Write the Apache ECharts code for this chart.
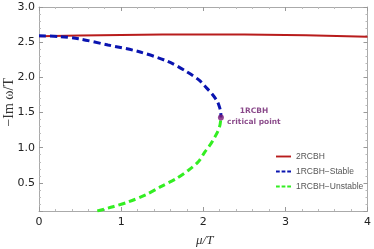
<!DOCTYPE html>
<html><head><meta charset="utf-8">
<script src="https://cdn.jsdelivr.net/npm/echarts@6/dist/echarts.min.js"></script>
<style>html,body{margin:0;padding:0;background:#fff}#c{width:374px;height:249px}</style>
</head><body><div id="c"></div>
<script>
const redX = [0, 0.5, 1, 1.5, 2, 2.5, 3, 3.5, 4];
const redY = [2.585, 2.595, 2.603, 2.608, 2.61, 2.608, 2.602, 2.592, 2.578];
const blueX = [0, 0.25, 0.48, 0.84, 1.2, 1.56, 1.8, 1.95, 2.04, 2.11, 2.17, 2.2, 2.213, 2.215];
const blueY = [2.59, 2.58, 2.55, 2.46, 2.37, 2.23, 2.08, 1.96, 1.85, 1.76, 1.66, 1.57, 1.5, 1.43];
const greenX = [0.71, 0.9, 1.09, 1.3, 1.49, 1.67, 1.82, 1.94, 2.02, 2.09, 2.14, 2.18, 2.205, 2.215];
const greenY = [0.1, 0.16, 0.23, 0.33, 0.45, 0.56, 0.68, 0.8, 0.94, 1.05, 1.15, 1.24, 1.33, 1.43];
const critical = [2.215, 1.43];
const names = ['2RCBH', '1RCBH\u2212Stable', '1RCBH\u2212Unstable'];

const axCol = '#aaa';
const tickFont = {fontFamily: 'DejaVu Sans', fontSize: 11, color: '#222'};
function xa(pos, labels) {
  return {type: 'value', position: pos, min: 0, max: 4, interval: 1,
    axisLine: {show: true, onZero: false, lineStyle: {color: axCol}},
    axisTick: {show: true, inside: true, length: 4, lineStyle: {color: '#999'}},
    minorTick: {show: true, splitNumber: 5, length: 2, lineStyle: {color: '#bbb'}},
    axisLabel: labels ? Object.assign({show: true, margin: 6}, tickFont) : {show: false},
    splitLine: {show: false}};
}
function ya(pos, labels) {
  return {type: 'value', position: pos, min: 0.1, max: 3.0, splitNumber: 6,
    axisLine: {show: true, onZero: false, lineStyle: {color: axCol}},
    axisTick: {show: true, inside: true, length: 4, lineStyle: {color: '#999'}},
    minorTick: {show: true, splitNumber: 5, length: 2, lineStyle: {color: '#bbb'}},
    axisLabel: labels ? Object.assign({show: true, margin: 4, showMinLabel: false, formatter: v => v.toFixed(1)}, tickFont) : {show: false},
    splitLine: {show: false}};
}
const zip = (a, b) => a.map((v, i) => [v, b[i]]);
const solid = 'path://M0 0H16V2H0Z';
const dashed = 'path://M0 0H4V2H0Z M6 0H10V2H6Z M12 0H16V2H12Z';

const chart = echarts.init(document.getElementById('c'), null, {renderer: 'canvas'});
chart.setOption({
  animation: false,
  backgroundColor: '#fff',
  grid: {left: 39, right: 3, top: 7, bottom: 38, containLabel: false},
  xAxis: [xa('bottom', true), xa('top', false)],
  yAxis: [ya('left', true), ya('right', false)],
  legend: {
    orient: 'vertical', left: 271, top: 147, itemGap: 6, itemWidth: 15, itemHeight: 2,
    data: [{name: names[0], icon: solid}, {name: names[1], icon: dashed}, {name: names[2], icon: dashed}],
    textStyle: {fontFamily: 'Liberation Sans', fontSize: 8.5, color: '#555'}
  },
  graphic: [
    {type: 'text', left: 196, top: 234, style: {text: '\u03bc/T', font: 'italic 13px "Liberation Serif"', fill: '#333'}},
    {type: 'text', left: 2, top: 78, rotation: Math.PI / 2,
      style: {text: '\u2212Im \u03c9/T', font: '14px "Liberation Serif"', fill: '#333'}}
  ],
  series: [
    {name: names[0], type: 'line', symbol: 'none', smooth: true, data: zip(redX, redY),
      lineStyle: {color: '#b81c1c', width: 2}, itemStyle: {color: '#b81c1c'}, z: 3},
    {name: names[1], type: 'line', symbol: 'none', smooth: 0.3, data: zip(blueX, blueY),
      lineStyle: {color: '#0a14b0', width: 3, type: [7, 4]}, itemStyle: {color: '#0a14b0'}, z: 4},
    {name: names[2], type: 'line', symbol: 'none', smooth: 0.3, data: zip(greenX, greenY),
      lineStyle: {color: '#33ee22', width: 3, type: [7, 4]}, itemStyle: {color: '#33ee22'}, z: 4},
    {type: 'scatter', data: [critical], symbolSize: 6, itemStyle: {color: '#7a1a78'}, z: 5,
      label: {show: true, position: 'right', distance: 0, offset: [0, -1],
        formatter: '{a|1RCBH}\n{a|critical point}',
        rich: {a: {width: 60, align: 'center', fontFamily: 'DejaVu Sans', fontWeight: 'bold', fontSize: 7.5, color: '#6b1a6b', lineHeight: 11}}}}
  ]
});
</script></body></html>
